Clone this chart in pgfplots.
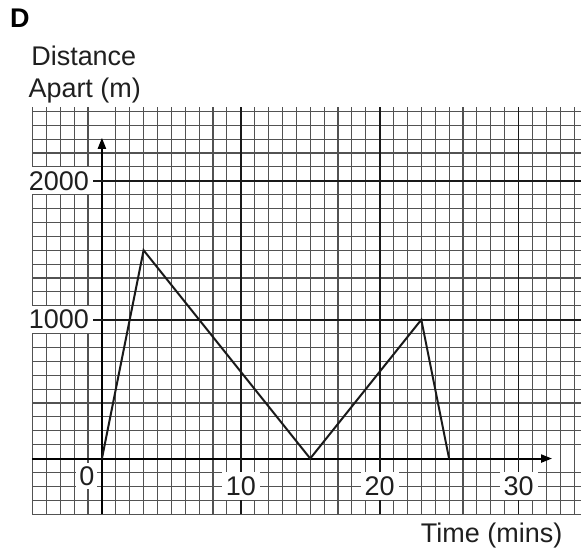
\documentclass[border=0pt]{standalone}
\usepackage{fontspec}
\setmainfont{Liberation Sans}
\usepackage{pgfplots}
\pgfplotsset{compat=1.18}
\usetikzlibrary{arrows.meta}
\newcommand{\lbl}{\fontsize{27bp}{31bp}\selectfont}
\begin{document}
\begin{tikzpicture}
\begin{axis}[
  x=13.9bp, y=0.139bp,
  xmin=-5, xmax=34.5, ymin=-400, ymax=2530,
  enlargelimits=false, clip=false,
  axis lines=middle,
  x axis line style={line width=2bp, -{Triangle[length=11bp,width=8bp]}, shorten >=29bp},
  y axis line style={line width=2bp, -{Triangle[length=11bp,width=8bp]}, shorten >=30.6bp},
  major tick length=0pt,
  xtick={-5,-4,...,9,11,12,...,19,21,22,...,29,31,32,33,34},
  ytick={-400,-300,...,900,1100,1200,...,1900,2100,2200,...,2500},
  xticklabels={}, yticklabels={},
  grid=major,
  major grid style={black!68, line width=1.1bp},
  extra x ticks={10,20,30},
  extra x tick labels={10,20,30},
  extra x tick style={grid=major, major grid style={black!90, line width=1.9bp},
    xticklabel style={anchor=center, yshift=-27.5bp, fill=white, inner sep=4bp, font=\lbl, text=black!88}},
  extra y ticks={1000,2000},
  extra y tick labels={1000,2000},
  extra y tick style={grid=major, major grid style={black!90, line width=1.9bp},
    yticklabel style={anchor=center, xshift=-43bp, fill=white, inner sep=4bp, font=\lbl, text=black!88}},
]
\addplot[black!90, line width=2bp, line join=miter, mark=none] coordinates {
  (0,0) (3,1500) (15,0) (23,1000) (25,0)
};
\node[fill=white, inner sep=3bp, font=\lbl, text=black!88, anchor=center, xshift=-15bp, yshift=-17.5bp] at (axis cs:0,0) {0};
\node[font=\bfseries\lbl, anchor=base west, inner sep=0pt] at (axis cs:-6.62,3101) {D};
\node[font=\lbl, text=black!88, anchor=base west, inner sep=0pt] at (axis cs:-5.1,2827) {Distance};
\node[font=\lbl, text=black!88, anchor=base west, inner sep=0pt] at (axis cs:-5.3,2597) {Apart (m)};
\node[font=\lbl, text=black!88, anchor=base east, inner sep=0pt] at (axis cs:33.17,-604) {Time (mins)};
\path (axis cs:-7.34,3302) rectangle (axis cs:34.53,-676);
\end{axis}
\end{tikzpicture}
\end{document}
